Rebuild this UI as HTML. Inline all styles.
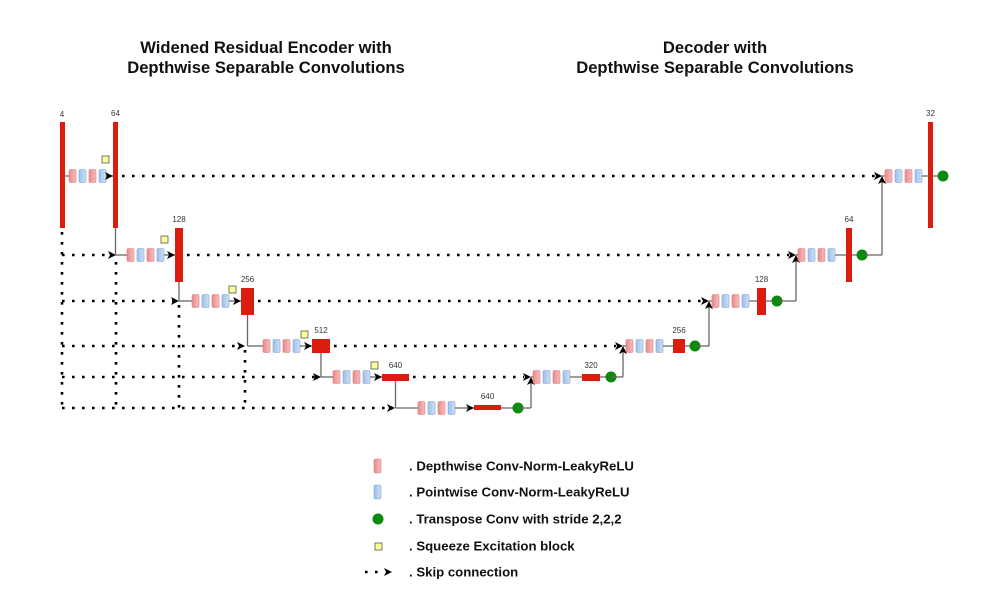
<!DOCTYPE html>
<html><head><meta charset="utf-8"><style>
html,body{margin:0;padding:0;background:#fff;}
svg{display:block;font-family:"Liberation Sans",sans-serif;}
</style></head><body>
<svg id="dg" width="1001" height="613" viewBox="0 0 1001 613">
<defs>
<linearGradient id="pk" x1="0" x2="1"><stop offset="0" stop-color="#e88a8a"/><stop offset="1" stop-color="#f6c0c0"/></linearGradient>
<linearGradient id="bl" x1="0" x2="1"><stop offset="0" stop-color="#9cbfe8"/><stop offset="1" stop-color="#cfe0f5"/></linearGradient>
</defs>
<g font-weight="bold" font-size="16.6" fill="#111" text-anchor="middle">
<text x="266" y="53">Widened Residual Encoder with</text>
<text x="266" y="73">Depthwise Separable Convolutions</text>
<text x="715" y="53">Decoder with</text>
<text x="715" y="73">Depthwise Separable Convolutions</text>
</g>
<g id="lay"></g>
</svg>
<script>
const rowY=[176,255,301,346,377,408];
const encLabels=["64","128","256","512","640","640"];
const decLabels=["32","64","128","256","320"];
const NS="http://www.w3.org/2000/svg";
const g=document.getElementById('lay');
function mk(t,a,p){const e=document.createElementNS(NS,t);for(const k in a)e.setAttribute(k,a[k]);(p||g).appendChild(e);return e;}
function line(x1,y1,x2,y2,name){const e=mk('line',{x1,y1,x2,y2,stroke:'#666','stroke-width':1.3});}
function dots(x1,y1,x2,y2,name){const e=mk('line',{x1,y1,x2,y2,stroke:'#000','stroke-width':2.6,'stroke-dasharray':'2.6 7.4'});}
function arrow(x,y,dir,name){let p=dir==='r'?`${x},${y} ${x-8},${y-4} ${x-6},${y} ${x-8},${y+4}`:`${x},${y} ${x-4},${y+8} ${x},${y+6} ${x+4},${y+8}`;const e=mk('polygon',{points:p,fill:'#000'});}
function bar(x,y,w,h,name){const e=mk('rect',{x,y,width:w,height:h,fill:'#dd1c10'});}
function lbl(x,y,t,name){const e=mk('text',{x,y,'font-size':8,fill:'#333','text-anchor':'middle'});e.textContent=t;}
function blocks(x,y,name){for(let i=0;i<4;i++){const e=mk('rect',{x:x+i*10,y:y-6.5,width:7,height:13,rx:1.5,fill:i%2?'url(#bl)':'url(#pk)',stroke:i%2?'#7fa4d4':'#d97a7a','stroke-width':0.6});}}
function se(x,y,name){const e=mk('rect',{x,y,width:7,height:7,fill:'#ffff99',stroke:'#555','stroke-width':0.8});}
function circ(x,y,name){const e=mk('circle',{cx:x,cy:y,r:5.5,fill:'#0a8a0a'});}

dots(62,232,62,408,'skip-left-vertical-0');
dots(116,262,116,408,'skip-left-vertical-1');
dots(179,305,179,408,'skip-left-vertical-2');
dots(245,350,245,408,'skip-left-vertical-3');
const leftEnds=[116,179,245,321,395];
for(let i=0;i<5;i++){dots(62,rowY[i+1],leftEnds[i]-6,rowY[i+1],'skip-input-row-'+(i+1));arrow(leftEnds[i],rowY[i+1],'r','skip-input-arrow-'+(i+1));}

const encBlockX=[69,127,192,263,333,418];
const encBar=[[113,122,5,106],[175,228,8,54],[241,288,13,27],[312,339,18,14],[382,374,27,7],[474,405,27,5]];
const seXY=[[102,156],[161,236],[229,286],[301,331],[371,362]];
bar(60,122,5,106,'input-bar'); lbl(62,117,'4','input-channels-label');
line(65,176,69,176,'conn-in');
for(let i=0;i<6;i++){
  const y=rowY[i],bx=encBlockX[i],b=encBar[i];
  if(i>0){line(encBar[i-1][0]+encBar[i-1][2]/2,encBar[i-1][1]+encBar[i-1][3],encBar[i-1][0]+encBar[i-1][2]/2,y,'enc-down-'+i);line(encBar[i-1][0]+encBar[i-1][2]/2,y,bx,y,'enc-in-'+i);}
  blocks(bx,y,'enc-stage-'+i);
  line(bx+37,y,b[0],y,'enc-conn-'+i); arrow(b[0],y,'r','enc-arrow-'+i);
  bar(b[0],b[1],b[2],b[3],'enc-feature-bar-'+i);
  lbl(b[0]+b[2]/2,b[1]-6,encLabels[i],'enc-channels-label-'+i);
  if(i<5) se(seXY[i][0],seXY[i][1],'se-block-'+i);
}
const decBlockX=[885,798,712,626,533];
const decBar=[[928,122,5,106],[846,228,6,54],[757,288,9,27],[673,339,12,14],[582,374,18,7]];
const decCirc=[943,862,777,695,611];
const riseX=[882,796,709,623,531];
line(501,408,518,408,'bneck-conn'); circ(518,408,'bottleneck-transpose-conv');
for(let i=4;i>=0;i--){
  const y=rowY[i],bx=decBlockX[i],b=decBar[i];
  const prevC=i===4?518:decCirc[i+1], yb=rowY[i+1];
  line(prevC,yb,riseX[i],yb,'dec-up-h-'+i); line(riseX[i],yb,riseX[i],y+2,'dec-up-v-'+i); arrow(riseX[i],y,'u','dec-up-arrow-'+i);
  line(riseX[i],y,bx,y,'dec-in-'+i);
  blocks(bx,y,'dec-stage-'+i);
  line(bx+37,y,decCirc[i],y,'dec-conn-'+i);
  bar(b[0],b[1],b[2],b[3],'dec-feature-bar-'+i);
  lbl(b[0]+b[2]/2,b[1]-6,decLabels[i],'dec-channels-label-'+i);
  circ(decCirc[i],y,'dec-transpose-conv-'+i);
  const sx=encBar[i][0]+encBar[i][2];
  dots(sx+4,y,riseX[i]-7,y,'skip-connection-row-'+i); arrow(riseX[i],y,'r','skip-arrow-row-'+i);
}
const legY=[466,492,519,546,572];
const legText=["Depthwise Conv-Norm-LeakyReLU","Pointwise Conv-Norm-LeakyReLU","Transpose Conv with stride 2,2,2","Squeeze Excitation block","Skip connection"];
let e=mk('rect',{x:374,y:459,width:7,height:14,rx:1.5,fill:'url(#pk)',stroke:'#d97a7a','stroke-width':0.6});
e=mk('rect',{x:374,y:485,width:7,height:14,rx:1.5,fill:'url(#bl)',stroke:'#7fa4d4','stroke-width':0.6});
circ(378,519,'legend-transpose-icon');
se(375,543,'legend-se-icon');
dots(365,572,382,572,'legend-skip-icon'); arrow(392,572,'r','legend-skip-arrow');
for(let i=0;i<5;i++){const t=mk('text',{x:409,y:legY[i]+4.5,'font-size':13.2,'font-weight':'bold',fill:'#111'});t.textContent='. '+legText[i];}
</script>
</body></html>
